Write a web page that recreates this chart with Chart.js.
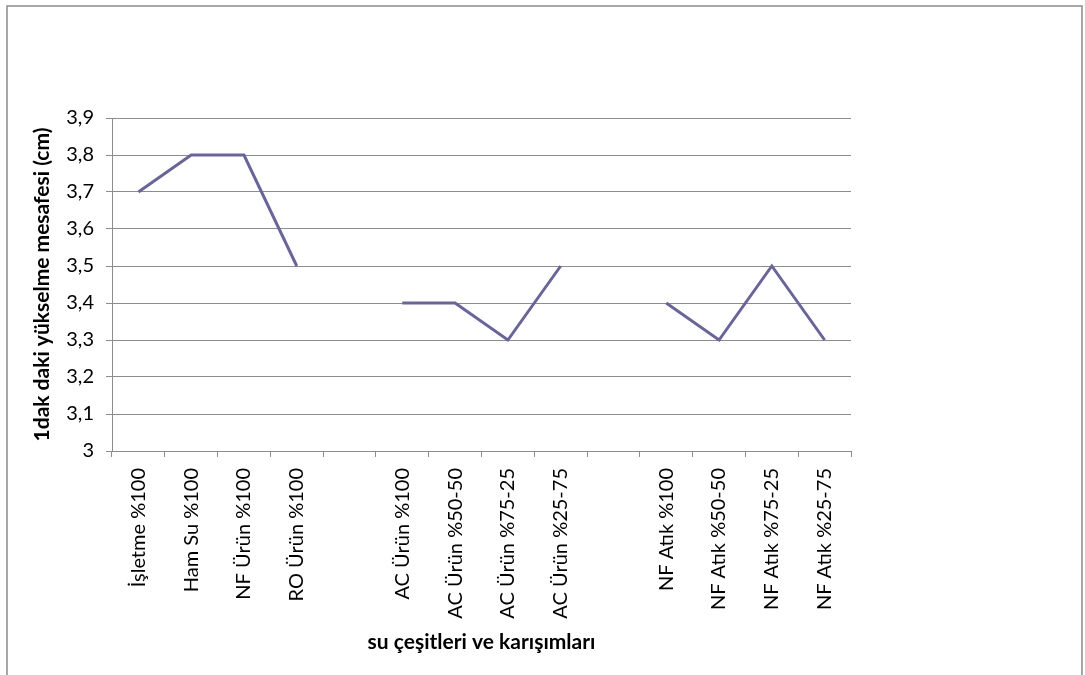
<!DOCTYPE html>
<html>
<head>
<meta charset="utf-8">
<script src="https://cdn.jsdelivr.net/npm/chart.js@4"></script>
<style>
  html, body { margin: 0; padding: 0; background: #fff; }
  #wrap { width: 1085px; height: 675px; position: relative; }
</style>
</head>
<body>
<div id="wrap"><canvas id="c" width="1085" height="675"></canvas></div>
<script>
// Water types and mixtures (empty strings separate the three groups)
const categories = [
  'İşletme %100', 'Ham Su %100', 'NF Ürün %100', 'RO Ürün %100', '',
  'AC Ürün %100', 'AC Ürün %50-50', 'AC Ürün %75-25', 'AC Ürün %25-75', '',
  'NF Atık %100', 'NF Atık %50-50', 'NF Atık %75-25', 'NF Atık %25-75'
];
// Rise distance after 1 minute (cm)
const riseValues = [3.7, 3.8, 3.8, 3.5, null, 3.4, 3.4, 3.3, 3.5, null, 3.4, 3.3, 3.5, 3.3];
const yMin = 3.0;
const yMax = 3.9;
const yStep = 0.1;
const yTitle = '1dak daki yükselme mesafesi (cm)';
const xTitle = 'su çeşitleri ve karışımları';

const FONT = 'Lato, "Open Sans", sans-serif';
const GRID = '#8c8c8c';

// Outer frame of the chart object
const framePlugin = {
  id: 'frame',
  beforeDraw(chart) {
    const ctx = chart.ctx;
    ctx.save();
    ctx.fillStyle = '#fff';
    ctx.fillRect(0, 0, chart.width, chart.height);
    ctx.strokeStyle = '#8a8a8a';
    ctx.lineWidth = 1.5;
    ctx.strokeRect(7, 6, 1075, 720);
    ctx.restore();
  }
};

new Chart(document.getElementById('c'), {
  type: 'line',
  data: {
    labels: categories,
    datasets: [{
      data: riseValues,
      borderColor: '#67649f',
      borderWidth: 3,
      pointRadius: 0,
      pointHoverRadius: 0,
      spanGaps: false,
      tension: 0,
      fill: false
    }]
  },
  options: {
    responsive: false,
    animation: false,
    events: [],
    layout: { padding: { top: 118, right: 234, bottom: 0, left: 0 } },
    plugins: { legend: { display: false }, tooltip: { enabled: false } },
    scales: {
      x: {
        type: 'category',
        offset: true,
        grid: {
          offset: true,
          drawOnChartArea: false,
          drawTicks: true,
          tickLength: 6,
          color: GRID
        },
        border: { display: true, color: GRID, width: 1 },
        ticks: {
          autoSkip: false,
          maxRotation: 90,
          minRotation: 90,
          padding: 11,
          color: '#000',
          font: { family: FONT, size: 20 }
        },
        title: {
          display: true,
          text: xTitle,
          color: '#000',
          font: { family: FONT, size: 21, weight: 'bold' },
          padding: { top: 0, bottom: 20 }
        },
        afterFit(scale) { scale.height = 224; }
      },
      y: {
        min: yMin,
        max: yMax,
        grid: {
          drawOnChartArea: true,
          drawTicks: true,
          tickLength: 6,
          color: GRID
        },
        border: { display: true, color: GRID, width: 1 },
        ticks: {
          stepSize: yStep,
          padding: 12,
          color: '#000',
          font: { family: FONT, size: 20 },
          callback: v => (Math.round(v * 10) / 10).toString().replace('.', ',')
        },
        title: {
          display: true,
          text: yTitle,
          color: '#000',
          font: { family: FONT, size: 21, weight: 'bold' },
          padding: { top: 30, bottom: 0 }
        },
        afterFit(scale) { scale.width = 112; }
      }
    }
  },
  plugins: [framePlugin]
});
</script>
</body>
</html>
